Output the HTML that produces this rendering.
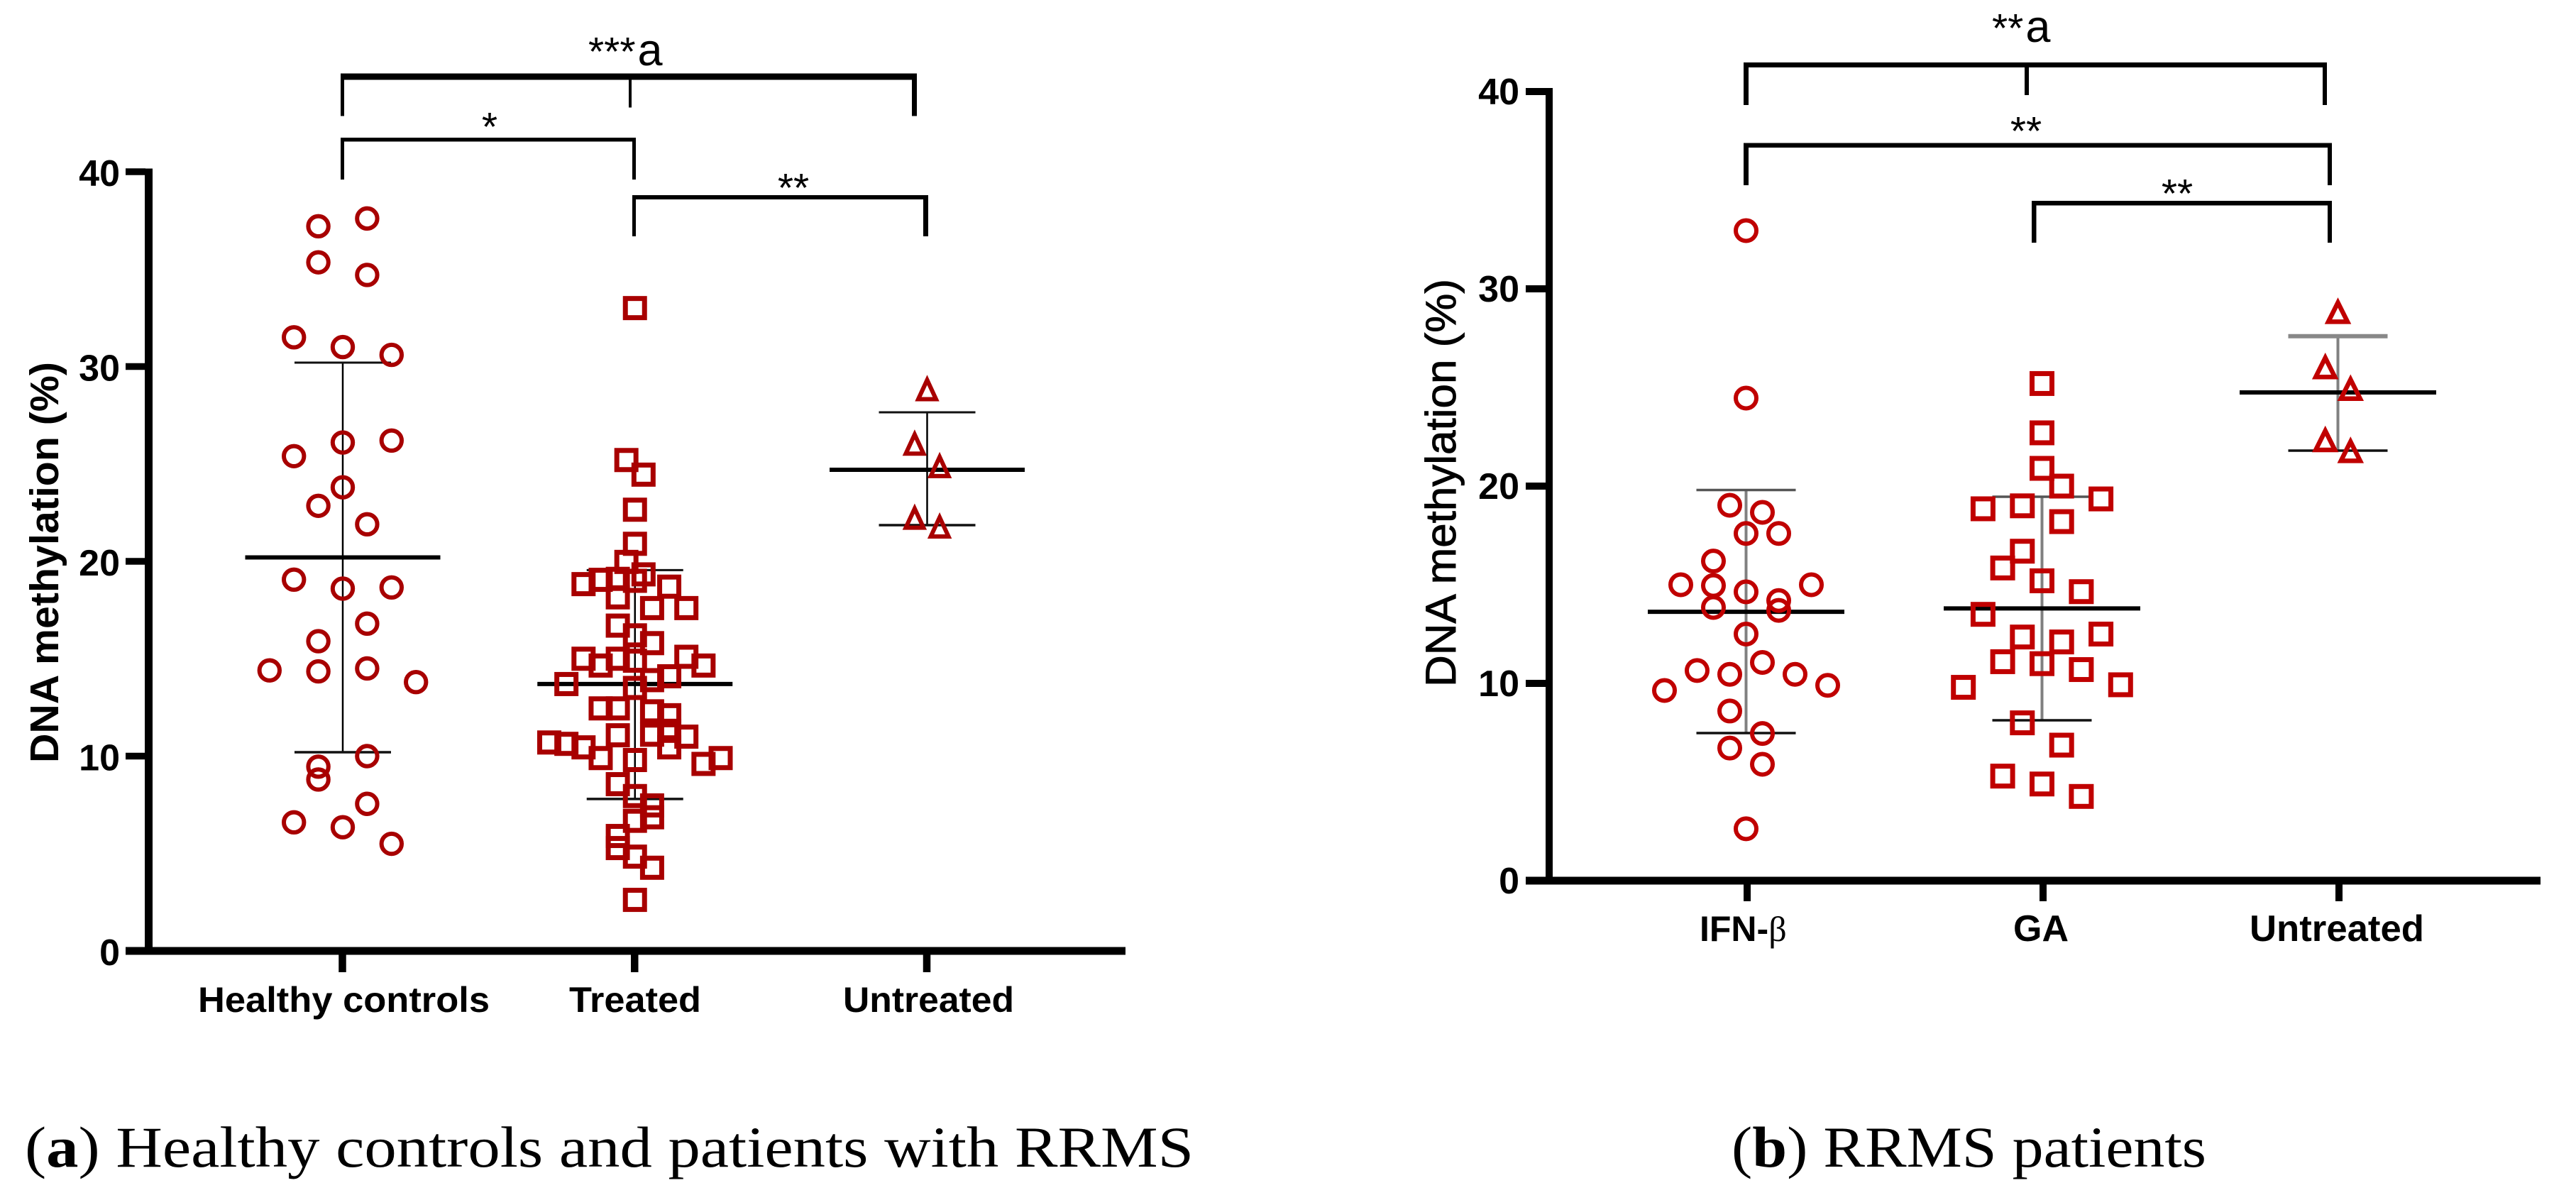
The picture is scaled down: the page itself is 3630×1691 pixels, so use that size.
<!DOCTYPE html>
<html lang="en">
<head>
<meta charset="utf-8">
<title>DNA methylation in healthy controls and RRMS patients</title>
<style>
html,body{margin:0;padding:0;background:#fff;}
svg{display:block;}
text{font-family:"Liberation Sans",sans-serif;fill:#000;}
.serif{font-family:"Liberation Serif",serif;}
.tick{font-weight:700;font-size:52px;text-anchor:end;}
.cat{font-weight:700;font-size:50px;}
.sig{font-size:57px;}
</style>
</head>
<body>
<svg id="chart" xmlns="http://www.w3.org/2000/svg" width="3630" height="1691" viewBox="0 0 3630 1691">
  <rect width="3630" height="1691" fill="#fff"/>

  <g id="panel-a">
    <text transform="translate(82,1075) rotate(-90)" font-size="57" font-weight="700" textLength="565" lengthAdjust="spacingAndGlyphs">DNA methylation (%)</text>
    <rect x="204" y="237.5" width="11" height="1108"/>
    <rect x="177" y="1334.5" width="1409" height="11"/>
    <text class="cat" x="279" y="1426" textLength="411" lengthAdjust="spacingAndGlyphs">Healthy controls</text>
    <text class="cat" x="802" y="1426" textLength="186" lengthAdjust="spacingAndGlyphs">Treated</text>
    <text class="cat" x="1188" y="1426" textLength="241" lengthAdjust="spacingAndGlyphs">Untreated</text>

    <g fill="#000">
      <rect x="480" y="103.5" width="812" height="9"/>
      <rect x="480" y="103.5" width="5" height="60"/>
      <rect x="886" y="103.5" width="4" height="48"/>
      <rect x="1285" y="103.5" width="7" height="60"/>
    </g>
    <g fill="#000">
      <rect x="480" y="194" width="416" height="5.5"/>
      <rect x="480" y="194" width="5" height="59"/>
      <rect x="891" y="194" width="5" height="59"/>
    </g>
    <g fill="#000">
      <rect x="891" y="275" width="417" height="6"/>
      <rect x="891" y="275" width="5" height="58"/>
      <rect x="1301" y="275" width="7" height="58"/>
    </g>
    <text class="sig" x="829" y="92">***<tspan font-size="63" dx="3">a</tspan></text>
    <text class="sig" x="690" y="198" text-anchor="middle">*</text>
    <text class="sig" x="1118" y="284" text-anchor="middle">**</text>
    <text class="serif" x="35" y="1644" font-size="82" textLength="1647" lengthAdjust="spacingAndGlyphs">(<tspan font-weight="700">a</tspan>) Healthy controls and patients with RRMS</text>
  </g>

  <g id="panel-b">
    <text transform="translate(2051,968) rotate(-90)" font-size="60" stroke="#000" stroke-width="0.9" textLength="575" lengthAdjust="spacingAndGlyphs">DNA methylation (%)</text>
    <rect x="2178" y="124" width="10" height="1122"/>
    <rect x="2150" y="1235.5" width="1430" height="11"/>
    <text class="cat" x="2395" y="1326" font-size="52">IFN-<tspan class="serif" font-weight="400">β</tspan></text>
    <text class="cat" x="2837" y="1326" textLength="78" lengthAdjust="spacingAndGlyphs" style="font-size:52px">GA</text>
    <text class="cat" x="3170" y="1326" textLength="246" lengthAdjust="spacingAndGlyphs" style="font-size:52px">Untreated</text>

    <g fill="#000">
      <rect x="2457" y="88" width="822" height="7"/>
      <rect x="2457" y="88" width="7" height="60"/>
      <rect x="2853" y="88" width="6" height="46"/>
      <rect x="3273" y="88" width="6" height="60"/>
    </g>
    <g fill="#000">
      <rect x="2457" y="201.5" width="829" height="6.5"/>
      <rect x="2457" y="201.5" width="7" height="59.5"/>
      <rect x="3280" y="201.5" width="6" height="59.5"/>
    </g>
    <g fill="#000">
      <rect x="2863" y="283" width="423" height="6.5"/>
      <rect x="2863" y="283" width="6.5" height="59"/>
      <rect x="3280" y="283" width="6" height="59"/>
    </g>
    <text class="sig" x="2807" y="59">**<tspan font-size="63" dx="3">a</tspan></text>
    <text class="sig" x="2855" y="204" text-anchor="middle">**</text>
    <text class="sig" x="3068" y="292" text-anchor="middle">**</text>
    <text class="serif" x="2440" y="1644" font-size="82" textLength="669" lengthAdjust="spacingAndGlyphs">(<tspan font-weight="700">b</tspan>) RRMS patients</text>
  </g>
</svg>

<script>
// Shared y-axis ticks
const yTicks = [0, 10, 20, 30, 40];

// Panel (a) data
const healthyValues = [37.2,37.6,35.35,34.7,31.5,31.0,30.6,26.1,26.2,25.4,23.8,22.85,21.9,19.06,18.6,18.66,16.8,15.9,14.4,14.35,14.5,13.8,10.0,9.46,8.8,7.55,6.6,6.35,5.5];
const healthySlots  = [-1,1,-1,1,-2,0,2,0,2,-2,0,-1,1,-2,0,2,1,-1,-3,-1,1,3,1,-1,-1,1,-2,0,2];
const treatedValues = [33.0,25.2,24.45,22.65,20.9,19.97,19.33,18.83,19.05,19.1,18.15,19.0,18.7,17.6,17.6,16.7,16.2,15.8,15.0,14.65,15.0,14.9,15.1,14.65,13.7,14.1,13.9,13.5,12.45,12.45,12.3,12.1,11.07,11.1,11.3,11.0,10.45,10.7,10.63,10.45,9.9,9.8,9.6,9.9,8.56,7.95,7.47,6.86,6.68,5.9,5.28,4.84,4.27,2.62];
const treatedSlots  = [0,-0.5,0.5,0,0,-0.5,0.5,-3,-2,-1,-1,0,2,1,3,-1,0,1,-3,-2,-1,0,3,4,-4,2,1,0,-2,-1,1,2,-1,1,2,3,2,-5,-4,-3,-2,0,4,5,-1,0,1,1,0,-1,-1,0,1,0];
const untreatedAValues = [28.8,26.0,24.85,22.2,21.75];
const untreatedASlots  = [0,-1,1,-1,1];
const panelAMeans = [20.2,13.7,24.7];
const panelAUpper = [30.2,19.55,27.65];
const panelALower = [10.2,7.8,21.86];

// Panel (b) data
const ifnValues = [32.95,24.46,19.03,18.67,17.6,17.6,16.2,15.0,14.96,15.0,14.64,14.2,13.85,13.7,12.5,11.06,10.65,10.46,10.46,9.64,9.9,8.6,7.46,6.72,5.9,2.63];
const ifnSlots  = [0,0,-1,1,0,2,-2,-4,-2,4,0,2,-2,2,0,1,-3,-1,3,-5,5,-1,1,-1,1,0];
const gaValues = [25.2,22.7,20.9,20.0,18.85,19.0,19.35,18.2,16.7,15.85,15.2,14.65,13.5,12.5,12.35,12.1,11.1,11.0,10.7,9.8,9.93,8.0,6.87,5.3,4.9,4.27];
const gaSlots  = [0,0,0,1,-3,-1,3,1,-1,-2,0,2,-3,3,-1,1,-2,0,2,-4,4,-1,1,-2,0,2];
const untreatedBValues = [28.8,26.0,24.9,22.3,21.75];
const untreatedBSlots  = [0,-1,1,-1,1];
const panelBMeans = [13.63,13.8,24.75];
const panelBUpper = [19.8,19.46,27.6];
const panelBLower = [7.48,8.13,21.8];

// Axis functions
function yA(v) { return 1340 - 27.45 * v; }
function yB(v) { return 1241 - 27.8 * v; }
function xA(i) { return 483 + 411.75 * i; }
function xB(i) { return 2460.5 + 417 * i; }

const SVGNS = 'http://www.w3.org/2000/svg';

function mk(parent, tag, attrs) {
  const el = document.createElementNS(SVGNS, tag);
  for (const k in attrs) { el.setAttribute(k, attrs[k]); }
  parent.appendChild(el);
  return el;
}

function drawYTicks(parent, yFn, tickLeft, tickW, tickH, labelRight, baselineOffset) {
  yTicks.forEach(function (t) {
    const mark = mk(parent, 'rect', { x: tickLeft, y: yFn(t) - tickH / 2, width: tickW, height: tickH, fill: '#000' });
    
    
    const label = mk(parent, 'text', { x: labelRight, y: yFn(t) + baselineOffset, class: 'tick' });
    label.textContent = String(t);
    
    
  });
}

function drawXTicks(parent, xFn, shift, width, top, bottom) {
  [0, 1, 2].forEach(function (i) {
    const mark = mk(parent, 'rect', { x: xFn(i) + shift - width / 2, y: top, width: width, height: bottom - top, fill: '#000' });
    
    
  });
}

function drawSummary(parent, cx, yFn, mean, upper, lower, capHalf, meanHalf, stemColor, stemW, capUpColor, capUpW, capLowW, meanW) {
  const stem = mk(parent, 'line', { x1: cx, x2: cx, y1: yFn(upper), y2: yFn(lower), stroke: stemColor, 'stroke-width': stemW });
  
  
  const up = mk(parent, 'line', { x1: cx - capHalf, x2: cx + capHalf, y1: yFn(upper), y2: yFn(upper), stroke: capUpColor, 'stroke-width': capUpW });
  
  
  const low = mk(parent, 'line', { x1: cx - capHalf, x2: cx + capHalf, y1: yFn(lower), y2: yFn(lower), stroke: '#111', 'stroke-width': capLowW });
  
  
  const m = mk(parent, 'line', { x1: cx - meanHalf, x2: cx + meanHalf, y1: yFn(mean), y2: yFn(mean), stroke: '#000', 'stroke-width': meanW });
  
  
}

function drawCircles(parent, cx, spacing, yFn, values, slots, r, sw, color) {
  values.forEach(function (v, i) {
    const c = mk(parent, 'circle', { cx: cx + slots[i] * spacing, cy: yFn(v), r: r, fill: 'none', stroke: color, 'stroke-width': sw });
    
    
  });
}

function drawSquares(parent, cx, spacing, yFn, values, slots, size, sw, color) {
  values.forEach(function (v, i) {
    const s = mk(parent, 'rect', { x: cx + slots[i] * spacing - size / 2, y: yFn(v) - size / 2, width: size, height: size, fill: 'none', stroke: color, 'stroke-width': sw });
    
    
  });
}

function drawTriangles(parent, cx, spacing, yFn, values, slots, halfW, sw, color) {
  values.forEach(function (v, i) {
    const x = cx + slots[i] * spacing;
    const y = yFn(v);
    const pts = (x - halfW) + ',' + (y + 13) + ' ' + x + ',' + (y - 14) + ' ' + (x + halfW) + ',' + (y + 13);
    const t = mk(parent, 'polygon', { points: pts, fill: 'none', stroke: color, 'stroke-width': sw });
    
    
  });
}

// Panel (a)
const panelA = document.getElementById('panel-a');
const RED_A = '#a80000';
drawYTicks(panelA, yA, 177, 28, 9.5, 169, 20);
drawXTicks(panelA, xA, -0.5, 10.5, 1345, 1370);
[0, 1, 2].forEach(function (i) {
  drawSummary(panelA, xA(i), yA, panelAMeans[i], panelAUpper[i], panelALower[i], 68, 137.5, '#000', 2.5, '#111', 3, 3.5, 6);
});
drawCircles(panelA, xA(0), 34.4, yA, healthyValues, healthySlots, 14.2, 6, RED_A);
drawSquares(panelA, xA(1), 24.15, yA, treatedValues, treatedSlots, 27, 7, RED_A);
drawTriangles(panelA, xA(2), 17.6, yA, untreatedAValues, untreatedASlots, 12.5, 6, RED_A);

// Panel (b)
const panelB = document.getElementById('panel-b');
const RED_B = '#c00000';
drawYTicks(panelB, yB, 2150, 28, 10, 2141, 18);
drawXTicks(panelB, xB, 1.5, 10, 1246, 1270);
[0, 1, 2].forEach(function (i) {
  const upColor = i === 2 ? '#888' : '#555';
  const upW = i === 2 ? 6 : 3.5;
  drawSummary(panelB, xB(i), yB, panelBMeans[i], panelBUpper[i], panelBLower[i], 70, 138.5, '#808080', 4, upColor, upW, 3.5, 6);
});
drawCircles(panelB, xB(0), 23, yB, ifnValues, ifnSlots, 14.5, 6, RED_B);
drawSquares(panelB, xB(1), 27.7, yB, gaValues, gaSlots, 28, 7, RED_B);
drawTriangles(panelB, xB(2), 17.8, yB, untreatedBValues, untreatedBSlots, 13.5, 6.5, RED_B);
</script>
</body>
</html>
